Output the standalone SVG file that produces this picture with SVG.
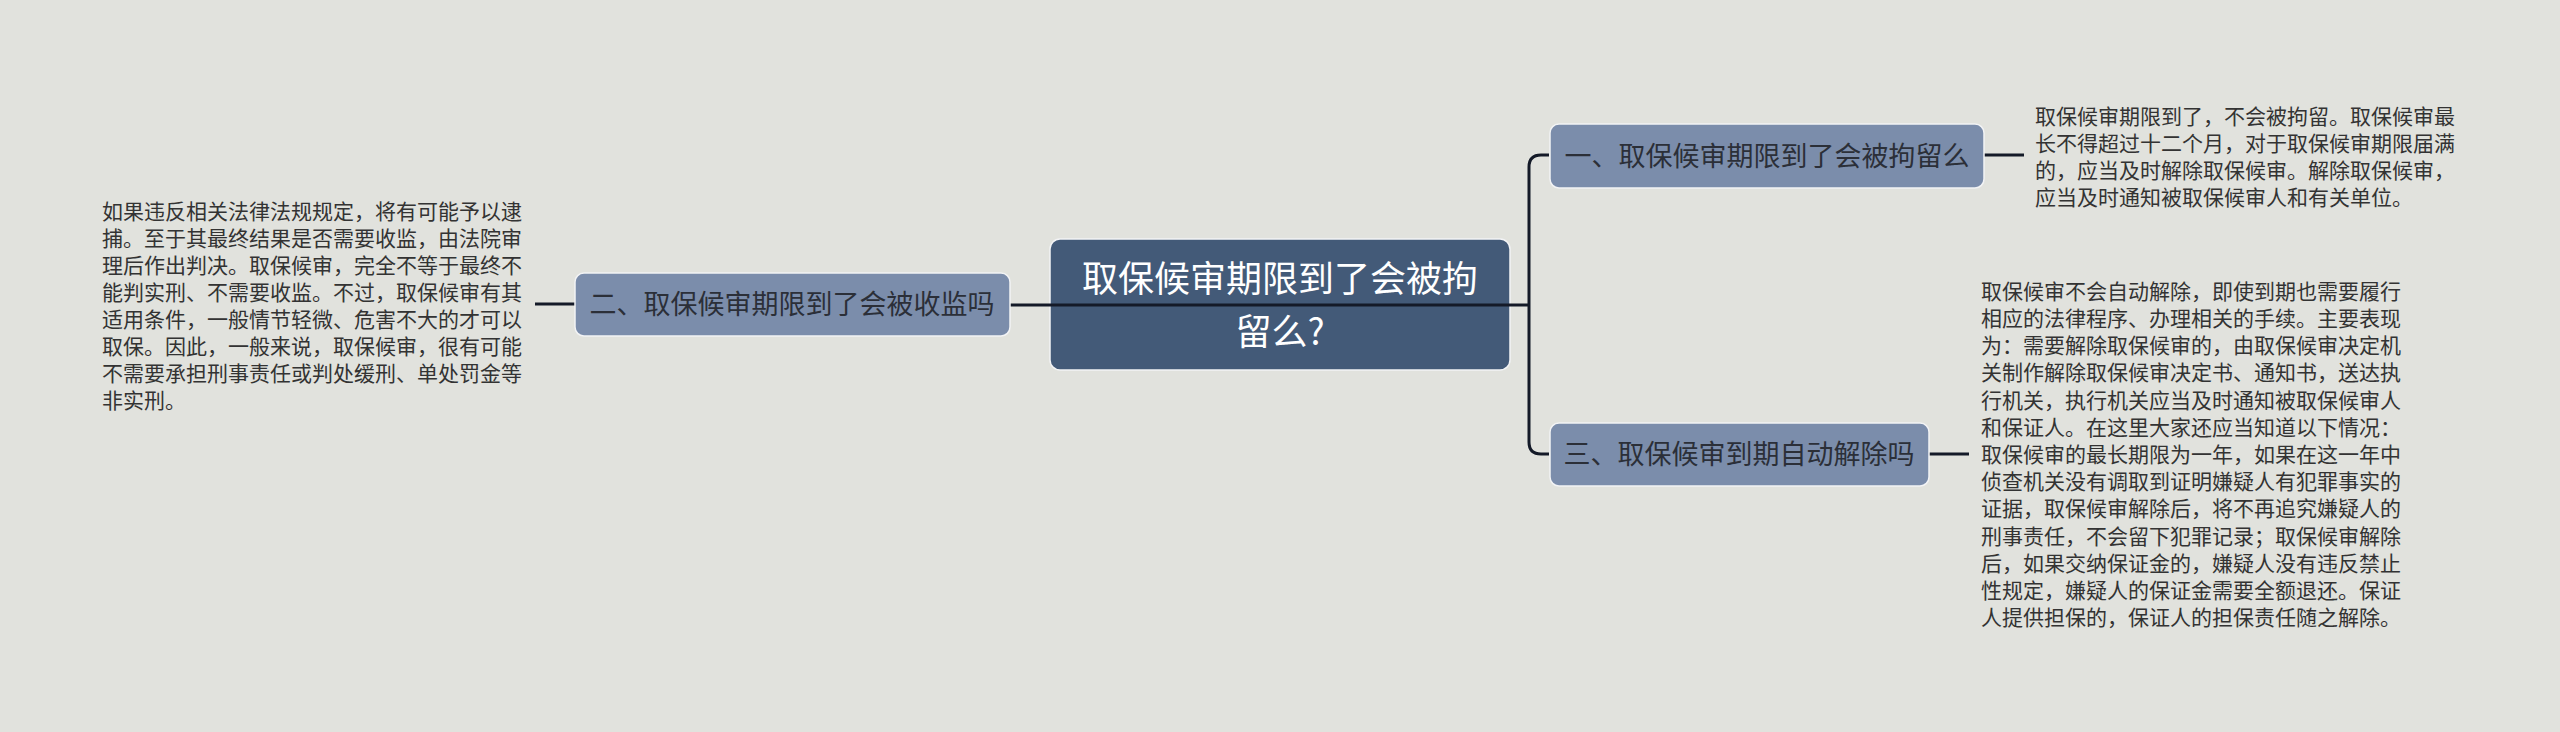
<svg xmlns="http://www.w3.org/2000/svg" width="2560" height="732" viewBox="0 0 2560 732">
<style>
.bg{fill:#e1e2dd}
.center{fill:#435a78;stroke:#f2f3f5;stroke-width:1.5}
.branch{fill:#7b8dab;stroke:#f2f3f5;stroke-width:1.5}
.ctext{font-family:"Noto Sans CJK SC","Noto Sans",sans-serif;font-size:36px;fill:#ffffff;text-anchor:middle}
.btext{font-family:"Noto Sans CJK SC","Noto Sans",sans-serif;font-size:27px;fill:#2b2f38;text-anchor:middle}
.dtext{font-family:"Noto Sans CJK SC","Noto Sans",sans-serif;font-size:21px;fill:#333333}
.conn{fill:none;stroke:#141a28;stroke-width:3}
</style>
<rect class="bg" x="0" y="0" width="2560" height="732"/>
<g id="node-center">
<rect class="center" x="1050" y="239" width="460" height="131" rx="10"/>
<text class="ctext" x="1280" y="292">取保候审期限到了会被拘</text>
<text class="ctext" x="1280" y="345">留么?</text>
</g>
<g id="connectors">
<path class="conn" d="M1010,305 H1529"/>
<path class="conn" d="M1549,155 H1541 Q1529,155 1529,167 V442 Q1529,454 1541,454 H1549"/>
<path class="conn" d="M575,304 H535"/>
<path class="conn" d="M1984,155 H2024"/>
<path class="conn" d="M1929,454 H1969"/>
</g>
<g id="node-1">
<rect class="branch" x="1550" y="124" width="434" height="64" rx="9"/>
<text class="btext" x="1767" y="166">一、取保候审期限到了会被拘留么</text>
</g>
<g id="node-2">
<rect class="branch" x="575" y="273" width="435" height="63" rx="9"/>
<text class="btext" x="792" y="314">二、取保候审期限到了会被收监吗</text>
</g>
<g id="node-3">
<rect class="branch" x="1550" y="423" width="379" height="63" rx="9"/>
<text class="btext" x="1739" y="464">三、取保候审到期自动解除吗</text>
</g>
<g id="text-1">
<text class="dtext" x="2035" y="124">取保候审期限到了，不会被拘留。取保候审最</text>
<text class="dtext" x="2035" y="151">长不得超过十二个月，对于取保候审期限届满</text>
<text class="dtext" x="2035" y="178">的，应当及时解除取保候审。解除取保候审，</text>
<text class="dtext" x="2035" y="205">应当及时通知被取保候审人和有关单位。</text>
</g>
<g id="text-2">
<text class="dtext" x="102" y="219">如果违反相关法律法规规定，将有可能予以逮</text>
<text class="dtext" x="102" y="246">捕。至于其最终结果是否需要收监，由法院审</text>
<text class="dtext" x="102" y="273">理后作出判决。取保候审，完全不等于最终不</text>
<text class="dtext" x="102" y="300">能判实刑、不需要收监。不过，取保候审有其</text>
<text class="dtext" x="102" y="327">适用条件，一般情节轻微、危害不大的才可以</text>
<text class="dtext" x="102" y="354">取保。因此，一般来说，取保候审，很有可能</text>
<text class="dtext" x="102" y="381">不需要承担刑事责任或判处缓刑、单处罚金等</text>
<text class="dtext" x="102" y="408">非实刑。</text>
</g>
<g id="text-3">
<text class="dtext" x="1981" y="299">取保候审不会自动解除，即使到期也需要履行</text>
<text class="dtext" x="1981" y="326">相应的法律程序、办理相关的手续。主要表现</text>
<text class="dtext" x="1981" y="353">为：需要解除取保候审的，由取保候审决定机</text>
<text class="dtext" x="1981" y="380">关制作解除取保候审决定书、通知书，送达执</text>
<text class="dtext" x="1981" y="408">行机关，执行机关应当及时通知被取保候审人</text>
<text class="dtext" x="1981" y="435">和保证人。在这里大家还应当知道以下情况：</text>
<text class="dtext" x="1981" y="462">取保候审的最长期限为一年，如果在这一年中</text>
<text class="dtext" x="1981" y="489">侦查机关没有调取到证明嫌疑人有犯罪事实的</text>
<text class="dtext" x="1981" y="516">证据，取保候审解除后，将不再追究嫌疑人的</text>
<text class="dtext" x="1981" y="544">刑事责任，不会留下犯罪记录；取保候审解除</text>
<text class="dtext" x="1981" y="571">后，如果交纳保证金的，嫌疑人没有违反禁止</text>
<text class="dtext" x="1981" y="598">性规定，嫌疑人的保证金需要全额退还。保证</text>
<text class="dtext" x="1981" y="625">人提供担保的，保证人的担保责任随之解除。</text>
</g>
</svg>
